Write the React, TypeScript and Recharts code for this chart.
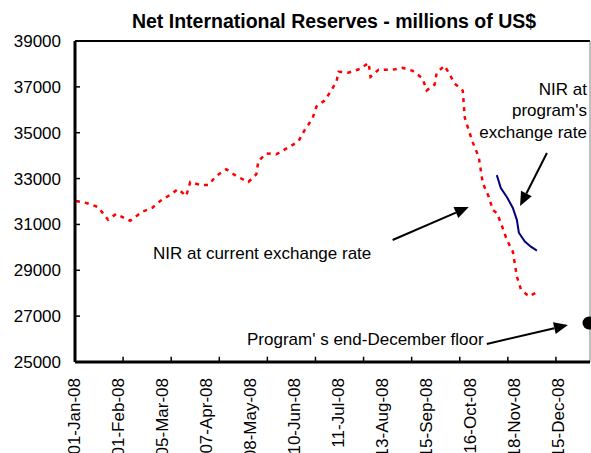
import React from 'react';
import { LineChart, Line, XAxis, YAxis, Scatter, ReferenceLine } from 'recharts';

const FONT = '"Liberation Sans", Arial, sans-serif';

// business-day index along the year -> NIR at current exchange rate
const currentIdx = [
  0, 5, 11, 16, 20, 27, 33, 38, 42, 46, 51, 55, 57, 62, 66, 70, 75, 80, 86, 90, 91, 95, 100, 106, 111, 114,
  118, 120, 124, 127, 130, 131, 136, 142, 146, 147, 151, 158, 163, 168, 173, 175, 179, 180, 184, 189, 193,
  194, 196, 198, 201, 203, 206, 208, 210, 212, 215, 218, 220, 222, 226, 230,
];
const currentVals = [
  32020, 31940, 31760, 31200, 31460, 31160, 31550, 31720, 32020, 32240, 32540, 32240, 32850, 32720, 32720,
  33110, 33410, 33110, 32850, 33190, 33760, 34100, 34060, 34360, 34620, 35100, 35620, 36140, 36400, 36790,
  37230, 37660, 37620, 37790, 38050, 37440, 37750, 37750, 37830, 37700, 37360, 36840, 37100, 37620, 37920,
  37140, 36840, 35660, 35100, 34580, 33930, 32800, 32200, 31630, 31500, 31070, 30330, 29810, 28730, 28170,
  27860, 28040,
];

// NIR at program's exchange rate
const programIdx = [210, 212, 215, 218, 220, 221, 224, 227, 230];
const programVals = [33150, 32590, 32200, 31720, 31200, 30640, 30250, 30030, 29860];

// end-December floor
const floorIdx = [256];
const floorVals = [26700];

const dateLabels = [
  '01-Jan-08', '01-Feb-08', '05-Mar-08', '07-Apr-08', '08-May-08', '10-Jun-08',
  '11-Jul-08', '13-Aug-08', '15-Sep-08', '16-Oct-08', '18-Nov-08', '15-Dec-08',
];
const labelStep = 22;
const markStep = 24;
const yTicks = [25000, 27000, 29000, 31000, 33000, 35000, 37000, 39000];

// annotation arrows (start -> tip), in data units
const arrowFrom = [[158, 30320], [235, 34115], [205, 25785]];
const arrowTo = [[196, 31760], [221.6, 31803], [245.5, 26614]];

const currentData = currentIdx.map((i, k) => ({ i, v: currentVals[k] }));
const programData = programIdx.map((i, k) => ({ i, v: programVals[k] }));
const floorData = floorIdx.map((i, k) => ({ i, v: floorVals[k] }));
const labelTicks = dateLabels.map((_, k) => k * labelStep);
const markTicks = Array.from({ length: 10 }, (_, k) => (k + 1) * markStep - 0.5);

const DateTick = (props: any) => {
  const { x, y, payload } = props;
  const tx = x - 2;
  const ty = y + 16;
  const label = dateLabels[Math.round(payload.value / labelStep)];
  return (
    <text
      x={tx}
      y={ty}
      transform={`rotate(-90 ${tx} ${ty})`}
      textAnchor="end"
      dominantBaseline="central"
      fontSize={17}
      fontFamily={FONT}
      fill="#000"
    >
      {label}
    </text>
  );
};

const arrowShape = (p: any) => {
  const { x1, y1, x2, y2 } = p;
  const dx = x2 - x1;
  const dy = y2 - y1;
  const len = Math.hypot(dx, dy) || 1;
  const ux = dx / len;
  const uy = dy / len;
  const hl = 14;
  const hw = 6;
  const bx = x2 - ux * hl;
  const by = y2 - uy * hl;
  return (
    <g>
      <line x1={x1} y1={y1} x2={bx} y2={by} stroke="#000" strokeWidth={2} />
      <polygon
        points={`${x2},${y2} ${bx - uy * hw},${by + ux * hw} ${bx + uy * hw},${by - ux * hw}`}
        fill="#000"
      />
    </g>
  );
};

const App: React.FC = () => {
  return (
    <div style={{ position: 'absolute', left: 0, top: 0, width: 591, height: 453, background: '#fff' }}>
      <LineChart width={591} height={453} margin={{ top: 41, right: 1, left: 0, bottom: 0 }}>
        <XAxis
          dataKey="i"
          type="number"
          domain={[-0.5, 256.5]}
          ticks={labelTicks}
          interval={0}
          tick={<DateTick />}
          tickSize={0}
          tickMargin={0}
          height={91}
          axisLine={{ stroke: '#000', strokeWidth: 3 }}
          tickLine={false}
        />
        <YAxis
          dataKey="v"
          type="number"
          domain={[25000, 39000]}
          ticks={yTicks}
          interval={0}
          width={75}
          tickSize={-5}
          tickMargin={19}
          axisLine={{ stroke: '#000', strokeWidth: 3 }}
          tickLine={{ stroke: '#000', strokeWidth: 1.5 }}
          tick={{ fill: '#000', fontSize: 17, fontFamily: FONT }}
        />
        <ReferenceLine y={39000} stroke="#000" strokeWidth={2} />
        <ReferenceLine x={256.5} stroke="#808080" strokeWidth={1} />
        {markTicks.map((m) => (
          <ReferenceLine
            key={`mark-${m}`}
            segment={[
              { x: m, y: 25000 },
              { x: m, y: 25230 },
            ]}
            stroke="#000"
            strokeWidth={1.5}
          />
        ))}

        <Line
          data={currentData}
          dataKey="v"
          stroke="#FF0000"
          strokeWidth={2.5}
          strokeDasharray="4 5"
          dot={false}
          type="linear"
          isAnimationActive={false}
        />
        <Line
          data={programData}
          dataKey="v"
          stroke="#000080"
          strokeWidth={2}
          dot={false}
          type="linear"
          isAnimationActive={false}
        />
        <Scatter
          data={floorData}
          dataKey="v"
          isAnimationActive={false}
          shape={(p: any) => <circle cx={p.cx} cy={p.cy} r={6.5} fill="#000" />}
        />

        {arrowFrom.map((a, k) => (
          <ReferenceLine
            key={`arrow-${k}`}
            segment={[
              { x: a[0], y: a[1] },
              { x: arrowTo[k][0], y: arrowTo[k][1] },
            ]}
            ifOverflow="visible"
            shape={arrowShape}
          />
        ))}
      </LineChart>

      <svg
        width={591}
        height={453}
        style={{ position: 'absolute', left: 0, top: 0, pointerEvents: 'none' }}
        fontFamily={FONT}
      >
        <text x={334} y={28} textAnchor="middle" fontSize={19.5} fontWeight="bold" fill="#000">
          Net International Reserves - millions of US$
        </text>
        <text x={153} y={259} fontSize={17} fill="#000">
          NIR at current exchange rate
        </text>
        <text x={247} y={345} fontSize={17} fill="#000">
          Program' s end-December floor
        </text>
        <text x={587} y={95} textAnchor="end" fontSize={17} fill="#000">
          NIR at
        </text>
        <text x={587} y={116} textAnchor="end" fontSize={17} fill="#000">
          program's
        </text>
        <text x={587} y={138} textAnchor="end" fontSize={17} fill="#000">
          exchange rate
        </text>
      </svg>
    </div>
  );
};

export default App;
